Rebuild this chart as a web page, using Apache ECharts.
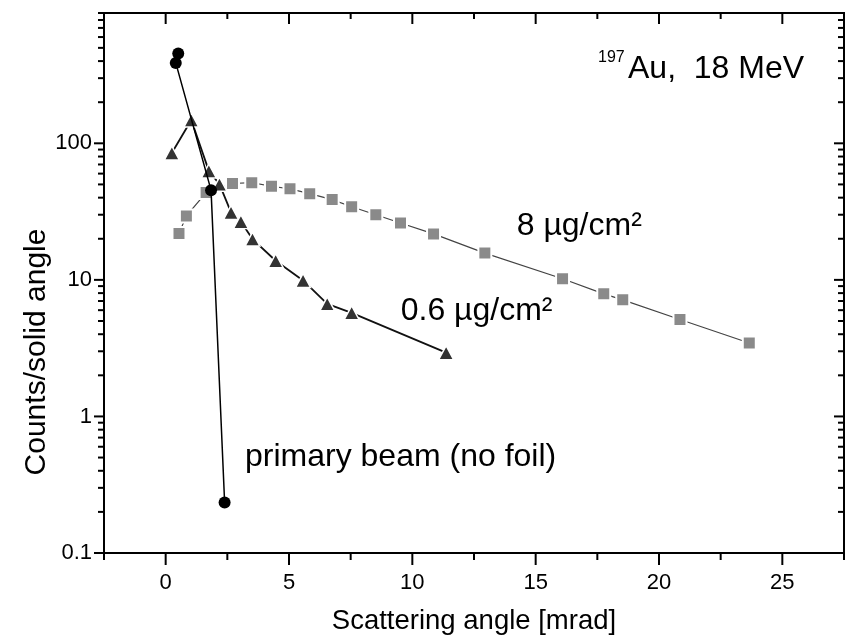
<!DOCTYPE html>
<html><head><meta charset="utf-8">
<script src="https://cdn.jsdelivr.net/npm/echarts@6/dist/echarts.min.js"></script>
<style>html,body{margin:0;padding:0;background:#fff}#c{width:847px;height:640px}</style>
</head><body><div id="c"></div>
<script>
// ---- data (scattering angle [mrad], counts/solid angle) ----
const beamData = [[0.51,454],[0.41,388],[1.84,45.4],[2.39,0.234]];
const thinFoilData = [[0.25,84.9],[1.04,148],[1.75,62.8],[2.18,50.2],[2.65,31.2],[3.05,26.7],[3.52,19.9],[4.46,13.8],[5.57,9.9],[6.55,6.68],[7.54,5.74],[11.37,2.93]];
const thickFoilData = [[0.54,21.9],[0.84,29.4],[1.64,43.6],[2.71,50.8],[3.49,51.5],[4.29,48.5],[5.04,46.4],[5.84,42.8],[6.75,38.7],[7.54,34.3],[8.52,30.0],[9.52,26.1],[10.86,21.7],[12.94,15.7],[16.09,10.2],[17.76,7.9],[18.53,7.14],[20.85,5.13],[23.66,3.45]];
const xMajorTicks = [0,5,10,15,20,25];
const xMinorTicks = [-2.5,2.5,7.5,12.5,17.5,22.5,27.5];
const yMajorTicks = [0.1,1,10,100];
const yMinorTicks = [0.2,0.3,0.4,0.5,0.6,0.7,0.8,0.9,2,3,4,5,6,7,8,9,20,30,40,50,60,70,80,90,200,300,400,500,600,700,800,900];

const FONT = '"Liberation Sans", Arial, Helvetica, sans-serif';
const tickData = [];
xMajorTicks.forEach(v => tickData.push([v, 1, 0]));
xMinorTicks.forEach(v => tickData.push([v, 1, 1]));
yMajorTicks.forEach(v => tickData.push([0, v, 2]));
yMinorTicks.forEach(v => tickData.push([0, v, 3]));

function renderTicks(params, api) {
  const cs = params.coordSys;
  const kind = api.value(2);
  const L = cs.x, R = cs.x + cs.width, T = cs.y, B = cs.y + cs.height;
  const style = {stroke: '#000', lineWidth: 2};
  if (kind < 2) {
    const px = api.coord([api.value(0), 1])[0];
    const lb = kind === 0 ? 12 : 7, lt = kind === 0 ? 11 : 6;
    return {type: 'group', children: [
      {type: 'line', shape: {x1: px, y1: B, x2: px, y2: B + lb}, style: style},
      {type: 'line', shape: {x1: px, y1: T, x2: px, y2: T + lt}, style: style}
    ]};
  }
  const py = api.coord([0, api.value(1)])[1];
  const len = kind === 2 ? 10 : 6;
  return {type: 'group', children: [
    {type: 'line', shape: {x1: L, y1: py, x2: L - len, y2: py}, style: style},
    {type: 'line', shape: {x1: R, y1: py, x2: R - len, y2: py}, style: style}
  ]};
}

const chart = echarts.init(document.getElementById('c'), null, {renderer: 'canvas'});
chart.setOption({
  animation: false,
  backgroundColor: '#fff',
  grid: {left: 104, top: 13, right: -3, bottom: 85, show: true, borderColor: '#000', borderWidth: 2, backgroundColor: 'transparent'},
  xAxis: {
    type: 'value', min: -2.5, max: 27.5, interval: 2.5,
    name: 'Scattering angle [mrad]', nameLocation: 'middle', nameGap: 54,
    nameTextStyle: {fontFamily: FONT, fontSize: 27.5, color: '#000'},
    axisLine: {show: true, onZero: false, lineStyle: {color: '#000', width: 2}},
    axisTick: {show: false}, splitLine: {show: false},
    axisLabel: {
      fontFamily: FONT, fontSize: 22, color: '#000', margin: 19,
      formatter: v => (Math.abs(v % 5) < 1e-9 ? String(v) : '')
    }
  },
  yAxis: {
    type: 'log', min: 0.1, max: 900, logBase: 10,
    axisLine: {show: true, onZero: false, lineStyle: {color: '#000', width: 2}},
    axisTick: {show: false}, splitLine: {show: false},
    axisLabel: {
      fontFamily: FONT, fontSize: 22, color: '#000', margin: 12,
      formatter: v => {
        const l = Math.log10(v);
        return Math.abs(l - Math.round(l)) < 1e-6 ? String(Number(v.toPrecision(3))) : '';
      }
    }
  },
  series: [
    {
      type: 'custom', name: 'ticks', renderItem: renderTicks, data: tickData,
      encode: {x: 0, y: 1}, clip: false, silent: true, z: 10
    },
    {
      type: 'line', name: '8 µg/cm²', data: thickFoilData, z: 3,
      symbol: 'rect', symbolSize: 13,
      lineStyle: {color: '#444', width: 1.2},
      itemStyle: {color: '#8a8a8a', borderColor: '#fff', borderWidth: 2}
    },
    {
      type: 'line', name: '0.6 µg/cm²', data: thinFoilData, z: 4,
      symbol: 'triangle', symbolSize: [15, 14],
      lineStyle: {color: '#111', width: 1.8},
      itemStyle: {color: '#333', borderColor: '#fff', borderWidth: 1.5}
    },
    {
      type: 'line', name: 'primary beam (no foil)', data: beamData, z: 5,
      symbol: 'circle', symbolSize: 12,
      lineStyle: {color: '#000', width: 1.5},
      itemStyle: {color: '#000'}
    }
  ],
  graphic: [
    {type: 'text', x: 37, y: 352, rotation: Math.PI / 2, style: {text: 'Counts/solid angle', font: '30px ' + FONT, fill: '#000', align: 'center', verticalAlign: 'middle'}},
    {type: 'text', x: 598, y: 57.5, style: {text: '197', font: '16px ' + FONT, fill: '#000', align: 'left', verticalAlign: 'middle'}},
    {type: 'text', x: 628, y: 68.7, style: {text: 'Au,  18 MeV', font: '32px ' + FONT, fill: '#000', align: 'left', verticalAlign: 'middle'}},
    {type: 'text', x: 516.7, y: 226, style: {text: '8 µg/cm²', font: '32px ' + FONT, fill: '#000', align: 'left', verticalAlign: 'middle'}},
    {type: 'text', x: 400.7, y: 311.4, style: {text: '0.6 µg/cm²', font: '32px ' + FONT, fill: '#000', align: 'left', verticalAlign: 'middle'}},
    {type: 'text', x: 245, y: 457, style: {text: 'primary beam (no foil)', font: '32px ' + FONT, fill: '#000', align: 'left', verticalAlign: 'middle'}}
  ]
});
</script>
</body></html>
